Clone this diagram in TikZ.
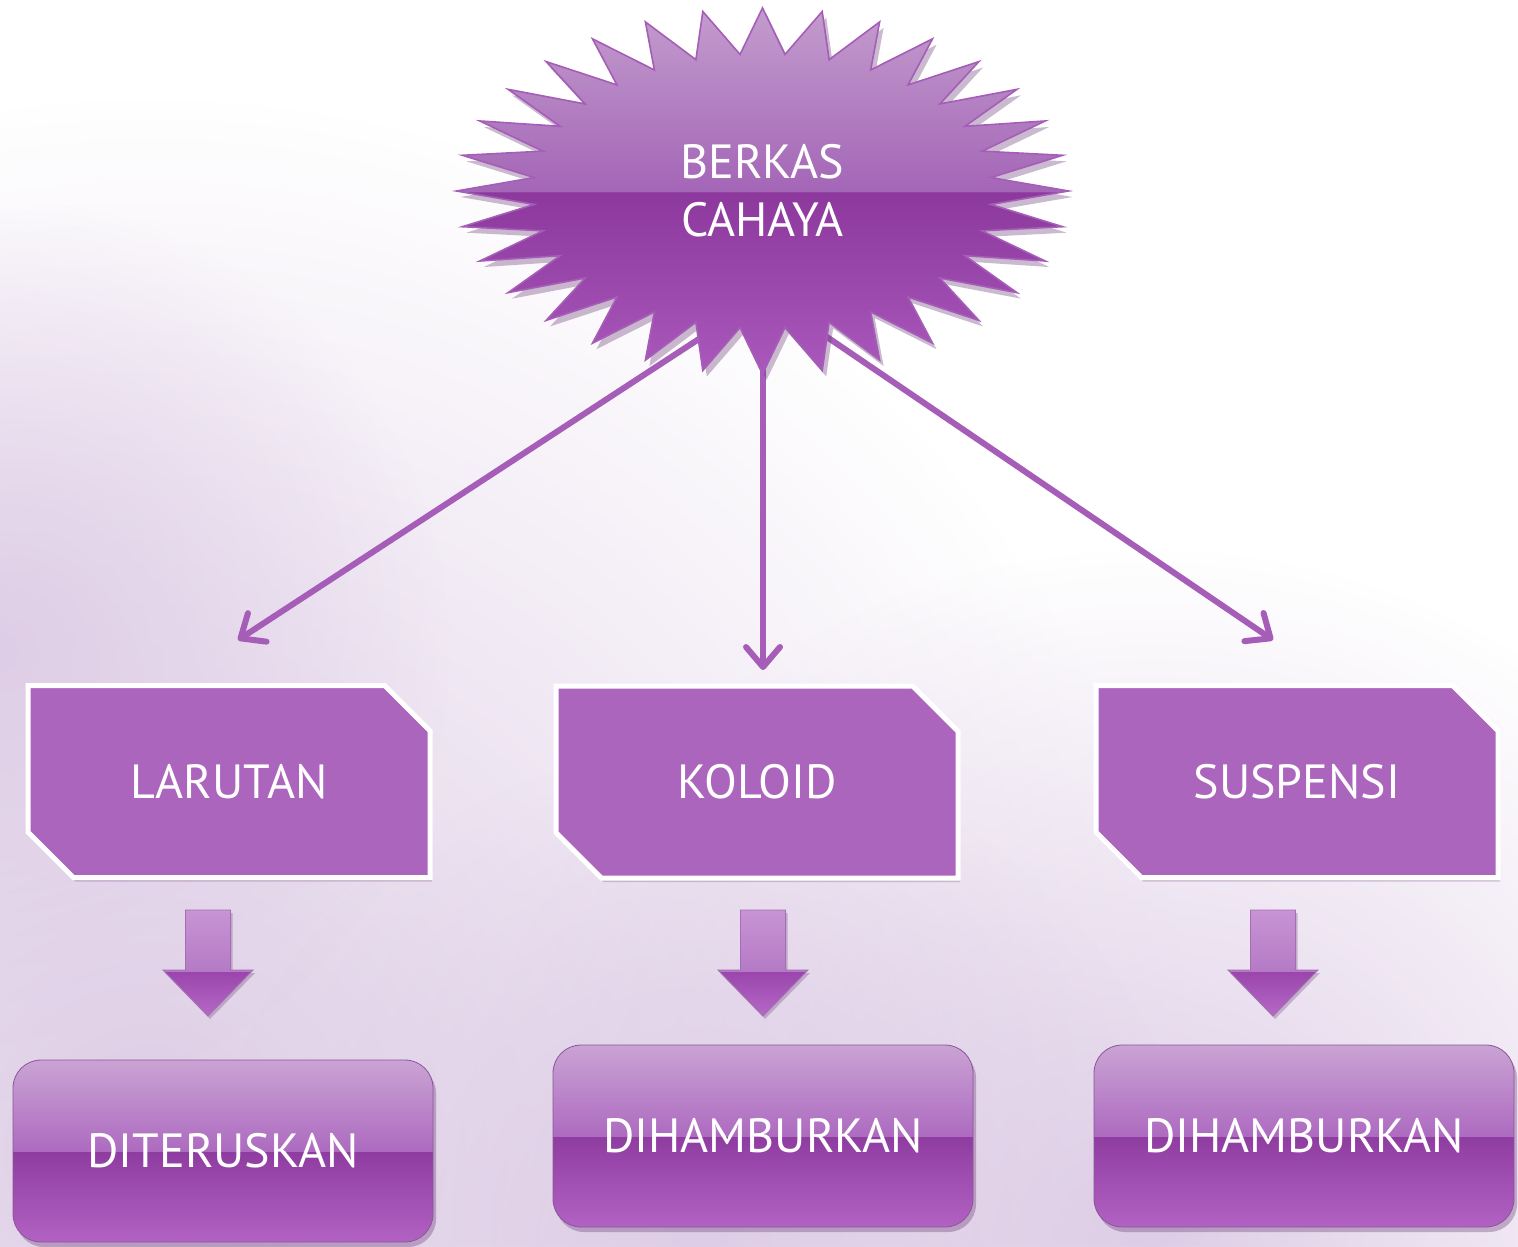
\documentclass[tikz,border=0pt]{standalone}
\usepackage{fontspec}
\setmainfont{PT Sans}
\usetikzlibrary{shapes.misc,arrows.meta,shadows,fadings}
\definecolor{boxfill}{HTML}{AB65BC}
\definecolor{linec}{HTML}{A55DB8}
\definecolor{gT}{HTML}{CAA3D4}
\definecolor{gM1}{HTML}{AD6BC0}
\definecolor{gM2}{HTML}{8F3CA1}
\definecolor{gB}{HTML}{B262C3}
\definecolor{sT}{HTML}{C39CCD}
\definecolor{sM1}{HTML}{A466B7}
\definecolor{sM2}{HTML}{8C389D}
\definecolor{sB}{HTML}{AA58BC}
\definecolor{aT}{HTML}{C894D4}
\definecolor{aM1}{HTML}{B57AC6}
\definecolor{aM2}{HTML}{9A45AC}
\definecolor{aB}{HTML}{B569C6}
\definecolor{bgL}{HTML}{DECDE6}
\definecolor{shadowc}{HTML}{6A3A78}
\pgfdeclareverticalshading{gloss}{100bp}{color(0bp)=(gB); color(25bp)=(gB); color(49.8bp)=(gM2); color(50bp)=(gM1); color(75bp)=(gT); color(100bp)=(gT)}
\pgfdeclareverticalshading{starsh}{100bp}{color(0bp)=(sB); color(25bp)=(sB); color(49.8bp)=(sM2); color(50bp)=(sM1); color(75bp)=(sT); color(100bp)=(sT)}
\pgfdeclareverticalshading{arrsh}{100bp}{color(0bp)=(aB); color(25bp)=(aB); color(46bp)=(aM2); color(46.2bp)=(aM1); color(75bp)=(aT); color(100bp)=(aT)}
\tikzfading[name=fuzzyc, inner color=transparent!0, outer color=transparent!100]
\tikzset{
  snipbox/.style={chamfered rectangle, chamfered rectangle corners={north east,south west},
    chamfered rectangle xsep=15pt, chamfered rectangle ysep=14pt,
    fill=boxfill, draw=white, line width=2.5pt, minimum width=201pt, minimum height=96pt,
    inner sep=0pt, text=white, font=\fontsize{24}{28}\selectfont,
    drop shadow={shadow xshift=1pt, shadow yshift=-2pt, opacity=0.25, fill=shadowc}},
  glossbox/.style={rectangle, rounded corners=14pt, shading=gloss, draw=gM1!80!black, line width=0.4pt,
    minimum width=210pt, minimum height=91pt, inner sep=0pt, text=white,
    font=\fontsize{24}{28}\selectfont,
    drop shadow={shadow xshift=1.5pt, shadow yshift=-2.5pt, opacity=0.35, fill=shadowc}},
  conn/.style={draw=linec, line width=3pt, -{Straight Barb[round, length=10pt, width=17pt]}},
  downarrow/.pic={\path[shading=arrsh, draw=aM1!90!black, line width=0.4pt,
    drop shadow={shadow xshift=1pt, shadow yshift=-1.5pt, opacity=0.3, fill=shadowc}]
    (-22.5,0) -- (22.5,0) -- (22.5,60) -- (45,60) -- (0,106) -- (-45,60) -- (-22.5,60) -- cycle;}
}
\begin{document}
\begin{tikzpicture}[x=0.5pt, y=-0.5pt]
\useasboundingbox (0,0) rectangle (1518,1246);
\fill[white] (0,0) rectangle (1518,1246);
\begin{scope}
\clip (0,0) rectangle (1518,1246);
\fill[bgL, path fading=fuzzyc] (150,1150) circle (1050);
\fill[bgL, path fading=fuzzyc] (1150,1250) circle (700);
\fill[bgL, path fading=fuzzyc] (0,650) circle (450);
\fill[bgL, path fading=fuzzyc] (700,1250) circle (500);
\end{scope}

% connectors (behind the star)
\coordinate (sL) at (705,335);
\coordinate (sM) at (763,330);
\coordinate (sR) at (824,335);
\coordinate (eL) at (238,640);
\coordinate (eM) at (763,670);
\coordinate (eR) at (1273,640);
\draw[conn] (sL) -- (eL);
\draw[conn] (sM) -- (eM);
\draw[conn] (sR) -- (eR);

% starburst
\begin{scope}[shift={(762.5,191)}]
\path[shading=starsh, draw=linec, line width=0.8pt,
  drop shadow={shadow xshift=2pt, shadow yshift=-3pt, opacity=0.35, fill=shadowc}]
  (90:306 and 183)
  \foreach \i in {1,...,63}{ -- ({90+\i*5.625}:{306-76.5*mod(\i,2)} and {183-45.75*mod(\i,2)}) } -- cycle;
\end{scope}
\node[text=white, align=center, font=\fontsize{24}{29}\selectfont] (star) at (762.5,191) {BERKAS\\CAHAYA};

% middle row
\node[snipbox] (lar) at (229,781.5) {LARUTAN};
\node[snipbox] (kol) at (757,782) {KOLOID};
\node[snipbox] (sus) at (1297,781.5) {SUSPENSI};

% block arrows
\pic (a1) at (208,910) {downarrow};
\pic (a2) at (763,910) {downarrow};
\pic (a3) at (1273,910) {downarrow};

% bottom row
\node[glossbox] (dit) at (223,1151) {DITERUSKAN};
\node[glossbox] (dh1) at (763,1136) {DIHAMBURKAN};
\node[glossbox] (dh2) at (1304,1136) {DIHAMBURKAN};
\end{tikzpicture}
\end{document}
